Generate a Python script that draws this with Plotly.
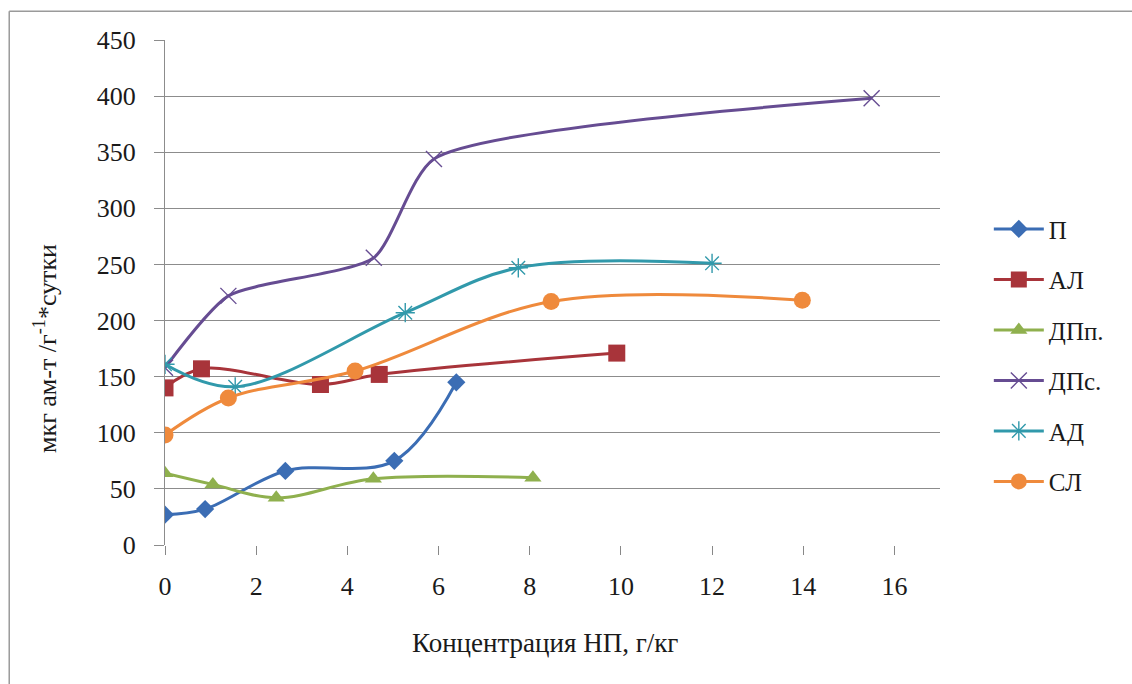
import plotly.graph_objects as go

# Concentration of petroleum products, g/kg, and activity for each soil type
series_names = ["П", "АЛ", "ДПп.", "ДПс.", "АД", "СЛ"]

x_p = [0, 0.88, 2.64, 5.03, 6.39]
y_p = [27, 32, 66, 75, 145]

x_al = [0, 0.8, 3.41, 4.7, 9.91]
y_al = [140, 157, 143, 152, 171]

x_dpp = [0, 1.05, 2.44, 4.57, 8.07]
y_dpp = [64, 54, 42, 59, 60]

x_dps = [0, 1.39, 4.58, 5.9, 15.5]
y_dps = [158, 222, 256, 344, 398]

x_ad = [0, 1.54, 5.27, 7.75, 12.0]
y_ad = [161, 141, 207, 247, 251]

x_sl = [0, 1.39, 4.17, 8.47, 13.98]
y_sl = [98, 131, 155, 217, 218]

x_ticks = [0, 2, 4, 6, 8, 10, 12, 14, 16]
y_ticks = [0, 50, 100, 150, 200, 250, 300, 350, 400, 450]

xs = [x_p, x_al, x_dpp, x_dps, x_ad, x_sl]
ys = [y_p, y_al, y_dpp, y_dps, y_ad, y_sl]

colors = ["#3b6db4", "#a8343a", "#8fb04e", "#664c92", "#3199ab", "#ef8a3c"]
symbols = ["diamond", "square", "triangle-up", "x-thin-open", "asterisk-open", "circle"]
sizes = [14, 17, 15, 16, 16, 17]
smooth = [1.0, 1.0, 1.0, 0.6, 1.0, 1.0]

SERIF = "Liberation Serif"
TXT = "#1a1a1a"

fig = go.Figure()
for i, name in enumerate(series_names):
    thin = symbols[i] in ("x-thin-open", "asterisk-open")
    fig.add_trace(go.Scatter(
        x=xs[i], y=ys[i], name=name, mode="lines+markers",
        legendgroup=name,
        line=dict(color=colors[i], width=3, shape="spline", smoothing=smooth[i]),
        marker=dict(symbol=symbols[i], size=sizes[i], color=colors[i],
                    line=dict(width=1.4 if thin else 0, color=colors[i])),
    ))

fig.update_layout(
    width=1132, height=684,
    margin=dict(l=165, r=192, t=40, b=139),
    paper_bgcolor="white", plot_bgcolor="white",
    font=dict(family=SERIF, size=22, color=TXT),
    showlegend=True,
    legend=dict(x=1.063, y=0.671, xanchor="left", yanchor="top",
                font=dict(family=SERIF, size=25, color=TXT),
                tracegroupgap=15, itemwidth=50, bgcolor="rgba(0,0,0,0)"),
    xaxis=dict(range=[0, 17], tickvals=x_ticks, showgrid=False, zeroline=False,
               showline=False, ticks="outside", ticklen=9, tickcolor="#888",
               tickfont=dict(family=SERIF, size=26, color=TXT), ticklabelstandoff=9),
    yaxis=dict(range=[0, 450], tickvals=y_ticks, showgrid=True, gridcolor="#8c8c8c",
               gridwidth=1.2, zeroline=False, showline=True, linecolor="#8c8c8c",
               linewidth=1.2, ticks="outside", ticklen=10, tickcolor="#8c8c8c",
               tickfont=dict(family=SERIF, size=26, color=TXT), ticklabelstandoff=13),
    annotations=[
        dict(text="Концентрация НП, г/кг", xref="paper", yref="paper",
             x=0.49, y=-0.195, xanchor="center", yanchor="middle", showarrow=False,
             font=dict(family=SERIF, size=27, color=TXT)),
        dict(text="мкг ам-т /г<sup>-1</sup>*сутки", xref="paper", yref="paper",
             x=-0.155, y=0.39, xanchor="center", yanchor="middle", showarrow=False,
             textangle=-90, font=dict(family=SERIF, size=26, color=TXT)),
    ],
    shapes=[
        # outer chart frame (left and top edges)
        dict(type="line", xref="paper", yref="paper", x0=-0.201, x1=1.3,
             y0=1.057, y1=1.057, line=dict(color="#9a9a9a", width=1.5)),
        dict(type="line", xref="paper", yref="paper", x0=-0.201, x1=-0.201,
             y0=1.057, y1=-0.3, line=dict(color="#9a9a9a", width=1.5)),
    ],
)

fig.write_html("out.html")
